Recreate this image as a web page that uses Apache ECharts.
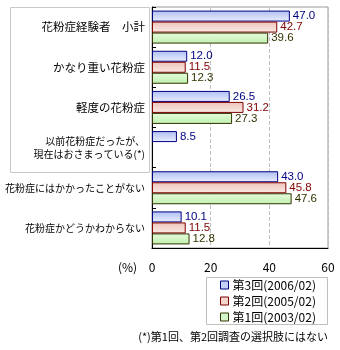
<!DOCTYPE html>
<html><head><meta charset="utf-8">
<script src="https://cdn.jsdelivr.net/npm/echarts@6/dist/echarts.min.js"></script>
<style>html,body{margin:0;padding:0;background:#fff}#c{width:340px;height:350px}</style>
</head><body><div id="c"></div>
<script>
const categories = ['花粉症経験者　小計','かなり重い花粉症','軽度の花粉症','以前花粉症だったが、\n現在はおさまっている(*)','花粉症にはかかったことがない','花粉症かどうかわからない'];
const labelSizes = [11, 11, 11, 10, 10, 10];
const seriesNames = ['第3回(2006/02)','第2回(2005/02)','第1回(2003/02)'];
const round3 = [47.0, 12.0, 26.5, 8.5, 43.0, 10.1];
const round2 = [42.7, 11.5, 31.2, null, 45.8, 11.5];
const round1 = [39.6, 12.3, 27.3, null, 47.6, 12.8];
const xTicks = [0, 20, 40, 60];
const footnote = '(*)第1回、第2回調査の選択肢にはない';

const FONT = '"Noto Sans CJK JP", sans-serif';
const styles = [
  {border:'#000080', top:'#aebff2', bottom:'#eaeefd', icon:'#c4d0f6', text:'#000080'},
  {border:'#800000', top:'#eec4ba', bottom:'#faeae6', icon:'#f4d6ce', text:'#800000'},
  {border:'#333300', top:'#e6fbde', bottom:'#bff0ae', icon:'#d4f6c8', text:'#333300'}
];
const datas = [round3, round2, round1];
function grad(s){return new echarts.graphic.LinearGradient(0,0,0,1,[{offset:0,color:s.top},{offset:1,color:s.bottom}]);}

const chart = echarts.init(document.getElementById('c'), null, {renderer:'canvas'});
chart.setOption({
  animation:false,
  backgroundColor:'#fff',
  graphic:[
    {type:'rect', shape:{x:10.5,y:7.5,width:139,height:165}, style:{fill:'none',stroke:'#c8c8c8',lineWidth:1}, z:-1},
    {type:'rect', shape:{x:206.5,y:277.5,width:121,height:47}, style:{fill:'#fff',stroke:'#c0c0c0',lineWidth:1}, z:-1},
    {type:'text', left:118, top:261, style:{text:'(%)', font:'12px '+FONT, fill:'#000'}},
    {type:'text', right:12, top:331, style:{text:footnote, font:'11px '+FONT, fill:'#000'}}
  ],
  legend:{
    orient:'vertical', left:220, top:279, padding:0, itemWidth:8, itemHeight:8, itemGap:4, icon:'rect',
    textStyle:{fontFamily:FONT, fontSize:12, color:'#000', lineHeight:12, padding:[0,0,0,-1]},
    data:seriesNames.map((n,i)=>({name:n, itemStyle:{color:styles[i].icon, borderColor:styles[i].border, borderWidth:1}}))
  },
  grid:{left:152, right:12, top:7, bottom:102, show:true, borderColor:'#999', borderWidth:1, containLabel:false},
  xAxis:{
    type:'value', min:0, max:60, interval:20,
    axisLine:{show:true, lineStyle:{color:'#000'}},
    axisTick:{show:false},
    splitLine:{show:true, lineStyle:{color:'#c0c0c0', type:'dashed'}},
    axisLabel:{margin:13, fontFamily:FONT, fontSize:12, color:'#000',
      formatter:v=> xTicks.includes(v) ? String(v) : ''}
  },
  yAxis:{
    type:'category', inverse:true, data:categories,
    axisLine:{show:true, lineStyle:{color:'#000'}},
    axisTick:{show:true, inside:true, length:4, lineStyle:{color:'#000'}},
    axisLabel:{margin:7, color:'#000', fontFamily:FONT,
      formatter:(v,i)=>{const k = labelSizes[i]===11?'a':'b'; return v.split('\n').map(s=>'{'+k+'|'+s+'}').join('\n');},
      rich:{a:{fontSize:11.5, fontFamily:FONT, color:'#000', lineHeight:13, align:'right'},
            b:{fontSize:10, fontFamily:FONT, color:'#000', lineHeight:13, align:'right'}}}
  },
  series: seriesNames.map((n,i)=>({
    name:n, type:'bar', data:datas[i], barWidth:11, barGap:'0%',
    itemStyle:{color:grad(styles[i]), borderColor:styles[i].border, borderWidth:1},
    label:{show:true, position:'right', distance:3, color:styles[i].text,
      fontFamily:'"Liberation Sans", Arial, sans-serif', fontSize:11.5,
      formatter:p=> p.value==null ? '' : Number(p.value).toFixed(1)}
  }))
});
</script></body></html>
